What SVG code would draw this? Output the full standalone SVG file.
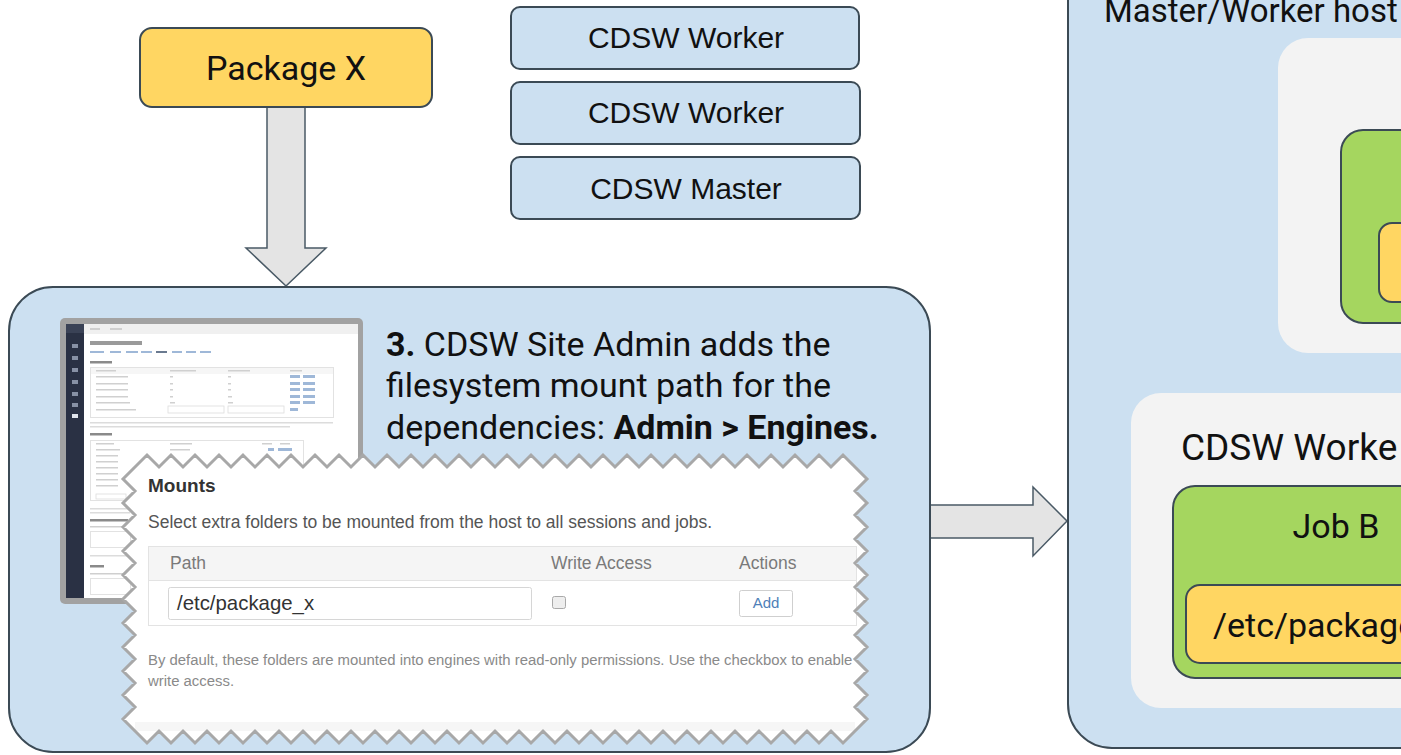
<svg xmlns="http://www.w3.org/2000/svg" width="1401" height="755" viewBox="0 0 1401 755">
<style>
.rob{font-family:Roboto,"Noto Sans",sans-serif;fill:#111}
.ari{font-family:"Liberation Sans",Arial,sans-serif}
.box{stroke:#3b4a55;stroke-width:2}
.blue{fill:#cce0f1}
.yel{fill:#ffd662}
.grn{fill:#a5d65f}
.gry{fill:#f3f3f3}
.arr{fill:#e4e4e4;stroke:#4a5a66;stroke-width:1.5}
.ln{fill:#d0d0d0}
.lk{fill:#9fb8d8}
</style>
<defs>
<path id="zz" d="M135,467 l12,-12 12,12 12,-12 12,12 12,-12 12,12 12,-12 12,12 12,-12 12,12
 12,-12 12,12 12,-12 12,12 12,-12 12,12 12,-12 12,12 12,-12 12,12
 12,-12 12,12 12,-12 12,12 12,-12 12,12 12,-12 12,12 12,-12 12,12
 12,-12 12,12 12,-12 12,12 12,-12 12,12 12,-12 12,12 12,-12 12,12
 12,-12 12,12 12,-12 12,12 12,-12 12,12 12,-12 12,12 12,-12 12,12
 12,-12 12,12 12,-12 12,12 12,-12 12,12 12,-12 12,12 12,-12 12,12
 12,12 -12,12 12,12 -12,12 12,12 -12,12 12,12 -12,12 12,12 -12,12
 12,12 -12,12 12,12 -12,12 12,12 -12,12 12,12 -12,12 12,12 -12,12
 12,12 -12,12
 -12,12 -12,-12 -12,12 -12,-12 -12,12 -12,-12 -12,12 -12,-12 -12,12 -12,-12
 -12,12 -12,-12 -12,12 -12,-12 -12,12 -12,-12 -12,12 -12,-12 -12,12 -12,-12
 -12,12 -12,-12 -12,12 -12,-12 -12,12 -12,-12 -12,12 -12,-12 -12,12 -12,-12
 -12,12 -12,-12 -12,12 -12,-12 -12,12 -12,-12 -12,12 -12,-12 -12,12 -12,-12
 -12,12 -12,-12 -12,12 -12,-12 -12,12 -12,-12 -12,12 -12,-12 -12,12 -12,-12
 -12,12 -12,-12 -12,12 -12,-12 -12,12 -12,-12 -12,12 -12,-12 -12,12 -12,-12
 -12,-12 12,-12 -12,-12 12,-12 -12,-12 12,-12 -12,-12 12,-12 -12,-12 12,-12
 -12,-12 12,-12 -12,-12 12,-12 -12,-12 12,-12 -12,-12 12,-12 -12,-12 12,-12
 -12,-12 12,-12 Z"/>
</defs>
<rect width="1401" height="755" fill="#ffffff"/>

<g id="connectors">
  <path class="arr" d="M267,106 L305,106 L305,248 L326,248 L286,286 L246,248 L267,248 Z"/>
  <path class="arr" d="M930,505 L1033,505 L1033,487 L1067,521 L1033,556 L1033,538 L930,538 Z"/>
</g>

<g id="package-x">
  <rect class="box yel" x="140" y="28" width="292" height="79" rx="12"/>
  <text class="rob" x="286" y="80" font-size="34" text-anchor="middle">Package X</text>
</g>

<g id="cdsw-worker-1">
  <rect class="box blue" x="511" y="7" width="348" height="62" rx="9"/>
  <text class="ari" x="686" y="48" font-size="30" text-anchor="middle" fill="#111">CDSW Worker</text>
</g>
<g id="cdsw-worker-2">
  <rect class="box blue" x="511" y="82" width="349" height="62" rx="9"/>
  <text class="ari" x="686" y="123" font-size="30" text-anchor="middle" fill="#111">CDSW Worker</text>
</g>
<g id="cdsw-master">
  <rect class="box blue" x="511" y="157" width="349" height="62" rx="9"/>
  <text class="ari" x="686" y="199" font-size="30" text-anchor="middle" fill="#111">CDSW Master</text>
</g>

<g id="site-admin">
  <rect class="box blue" x="9" y="287" width="921" height="465" rx="44"/>
  <g id="screenshot">
    <rect x="60" y="318" width="303" height="286" rx="5" fill="#a2a2a2"/>
    <rect x="66" y="324" width="292" height="274" fill="#ffffff"/>
    <rect x="84" y="324" width="274" height="10" fill="#f0f0f0"/>
    <rect x="90" y="328" width="10" height="2" class="ln"/>
    <rect x="110" y="328" width="12" height="2" class="ln"/>
    <rect x="66" y="324" width="18" height="274" fill="#2a3144"/>
    <rect x="66" y="324" width="18" height="9" fill="#3a4256"/>
    <rect x="72" y="344" width="6" height="4" fill="#8891a5"/>
    <rect x="72" y="356" width="6" height="4" fill="#8891a5"/>
    <rect x="72" y="368" width="6" height="4" fill="#8891a5"/>
    <rect x="72" y="380" width="6" height="4" fill="#8891a5"/>
    <rect x="72" y="392" width="6" height="4" fill="#8891a5"/>
    <rect x="72" y="403" width="6" height="4" fill="#8891a5"/>
    <rect x="72" y="414" width="6" height="4" fill="#e0e4ec"/>
    <rect x="90" y="341" width="52" height="4" fill="#9a9a9a"/>
    <rect x="90" y="351" width="14" height="2" class="lk"/>
    <rect x="110" y="351" width="11" height="2" class="lk"/>
    <rect x="126" y="351" width="12" height="2" class="lk"/>
    <rect x="141" y="351" width="11" height="2" class="lk"/>
    <rect x="156" y="351" width="11" height="2" fill="#6a7a90"/>
    <rect x="172" y="351" width="10" height="2" class="lk"/>
    <rect x="186" y="351" width="10" height="2" class="lk"/>
    <rect x="200" y="351" width="11" height="2" class="lk"/>
    <rect x="90" y="361" width="22" height="2.5" fill="#8a8a8a"/>
    <rect x="90.5" y="367.5" width="243" height="50" fill="none" stroke="#e2e2e2"/>
    <rect x="91" y="368" width="242" height="6" fill="#f6f6f6"/>
    <rect x="96" y="370" width="20" height="1.5" class="ln"/>
    <rect x="170" y="370" width="26" height="1.5" class="ln"/>
    <rect x="228" y="370" width="22" height="1.5" class="ln"/>
    <rect x="290" y="370" width="12" height="1.5" class="ln"/>
    <rect x="96" y="376" width="32" height="1.5" class="ln"/><rect x="170" y="376" width="3" height="1.5" class="ln"/><rect x="228" y="376" width="3" height="1.5" class="ln"/><rect x="290" y="375" width="10" height="3" class="lk"/><rect x="303" y="375" width="12" height="3" class="lk"/>
    <rect x="96" y="383" width="32" height="1.5" class="ln"/><rect x="170" y="383" width="3" height="1.5" class="ln"/><rect x="228" y="383" width="3" height="1.5" class="ln"/><rect x="290" y="382" width="10" height="3" class="lk"/><rect x="303" y="382" width="12" height="3" class="lk"/>
    <rect x="96" y="389" width="32" height="1.5" class="ln"/><rect x="170" y="389" width="3" height="1.5" class="ln"/><rect x="228" y="389" width="3" height="1.5" class="ln"/><rect x="290" y="388" width="10" height="3" class="lk"/><rect x="303" y="388" width="12" height="3" class="lk"/>
    <rect x="96" y="396" width="32" height="1.5" class="ln"/><rect x="170" y="396" width="3" height="1.5" class="ln"/><rect x="228" y="396" width="4" height="1.5" class="ln"/><rect x="290" y="395" width="10" height="3" class="lk"/><rect x="303" y="395" width="12" height="3" class="lk"/>
    <rect x="96" y="402" width="34" height="1.5" class="ln"/><rect x="170" y="402" width="5" height="1.5" class="ln"/><rect x="228" y="402" width="5" height="1.5" class="ln"/><rect x="290" y="401" width="10" height="3" class="lk"/><rect x="303" y="401" width="12" height="3" class="lk"/>
    <rect x="96" y="409" width="40" height="1.5" class="ln"/><rect x="168" y="406" width="56" height="7" fill="none" stroke="#ddd" stroke-width="0.8"/><rect x="228" y="406" width="56" height="7" fill="none" stroke="#ddd" stroke-width="0.8"/><rect x="290" y="408" width="8" height="3" class="lk"/>
    <rect x="90" y="422" width="243" height="1.5" fill="#dcdcdc"/>
    <rect x="90" y="426" width="200" height="1.5" fill="#dcdcdc"/>
    <rect x="90" y="433" width="22" height="2.5" fill="#8a8a8a"/>
    <rect x="90.5" y="440.5" width="213" height="60" fill="none" stroke="#e2e2e2"/>
    <rect x="96" y="443" width="18" height="1.5" class="ln"/><rect x="170" y="443" width="22" height="1.5" class="ln"/><rect x="262" y="443" width="10" height="1.5" class="ln"/><rect x="280" y="443" width="10" height="1.5" class="ln"/>
    <rect x="96" y="449" width="24" height="1.5" class="ln"/><rect x="170" y="449" width="20" height="1.5" class="ln"/><rect x="268" y="448" width="6" height="3" class="lk"/><rect x="278" y="448" width="14" height="3" class="lk"/>
    <rect x="96" y="455" width="22" height="1.5" class="ln"/>
    <rect x="96" y="461" width="22" height="1.5" class="ln"/>
    <rect x="96" y="467" width="22" height="1.5" class="ln"/>
    <rect x="96" y="473" width="22" height="1.5" class="ln"/>
    <rect x="96" y="479" width="22" height="1.5" class="ln"/>
    <rect x="96" y="485" width="22" height="1.5" class="ln"/>
    <rect x="96" y="494" width="30" height="5" fill="none" stroke="#ddd" stroke-width="0.8"/>
    <rect x="90" y="508" width="40" height="1.5" fill="#dcdcdc"/>
    <rect x="90" y="512" width="40" height="1.5" fill="#dcdcdc"/>
    <rect x="90" y="519" width="38" height="2.5" fill="#8a8a8a"/>
    <rect x="90" y="526" width="40" height="1.5" fill="#cfcfcf"/>
    <rect x="90.5" y="531.5" width="40" height="16" fill="none" stroke="#e2e2e2"/>
    <rect x="90" y="555" width="40" height="1.5" fill="#dcdcdc"/>
    <rect x="90" y="565" width="14" height="2.5" fill="#8a8a8a"/>
    <rect x="90" y="573" width="40" height="1.5" fill="#cfcfcf"/>
    <rect x="90.5" y="578.5" width="40" height="16" fill="none" stroke="#e2e2e2"/>
  </g>

  <text class="rob" x="386" y="356" font-size="34"><tspan font-weight="bold">3.</tspan> CDSW Site Admin adds the</text>
  <text class="rob" x="386" y="397" font-size="34">filesystem mount path for the</text>
  <text class="rob" x="386" y="439" font-size="34">dependencies: <tspan font-weight="bold">Admin &gt; Engines.</tspan></text>

  <g id="mounts-panel">
    <use href="#zz" fill="#ffffff"/>
    <rect x="135" y="722" width="720" height="9" fill="#f6f6f6"/>
    <text class="ari" x="148" y="492" font-size="19" font-weight="bold" fill="#333">Mounts</text>
    <text class="ari" x="148" y="528" font-size="17.5" fill="#555">Select extra folders to be mounted from the host to all sessions and jobs.</text>
    <rect x="148.5" y="546.5" width="708" height="79" fill="#ffffff" stroke="#e3e3e3"/>
    <rect x="149" y="547" width="707" height="33" fill="#f5f5f5"/>
    <line x1="149" y1="580.5" x2="856" y2="580.5" stroke="#e3e3e3"/>
    <text class="ari" x="170" y="569" font-size="17.5" fill="#7a7a7a">Path</text>
    <text class="ari" x="551" y="569" font-size="17.5" fill="#7a7a7a">Write Access</text>
    <text class="ari" x="739" y="569" font-size="17.5" fill="#7a7a7a">Actions</text>
    <rect x="168.5" y="587.5" width="363" height="32" rx="2" fill="#ffffff" stroke="#d6d6d6"/>
    <text class="ari" x="177" y="610" font-size="20.4" fill="#333">/etc/package_x</text>
    <rect x="552.5" y="596.5" width="13" height="12" rx="2" fill="#eeeeee" stroke="#a9a9a9"/>
    <rect x="739.5" y="590.5" width="53" height="26" rx="2" fill="#ffffff" stroke="#cfcfcf"/>
    <text class="ari" x="766" y="608" font-size="15" fill="#4f7fb8" text-anchor="middle">Add</text>
    <text class="ari" x="148" y="665" font-size="14.9" fill="#8a8a8a">By default, these folders are mounted into engines with read-only permissions. Use the checkbox to enable</text>
    <text class="ari" x="148" y="686" font-size="14.9" fill="#8a8a8a">write access.</text>
    <use href="#zz" fill="none" stroke="#a8a8a8" stroke-width="3"/>
  </g>
</g>

<g id="hosts">
  <rect class="box blue" x="1068" y="-60" width="400" height="808" rx="44"/>
  <text class="rob" x="1104" y="22" font-size="33">Master/Worker host</text>
</g>

<g id="host-1">
  <rect class="gry" x="1278" y="38" width="200" height="315" rx="30"/>
  <g id="job-a">
    <rect class="box grn" x="1341" y="130" width="120" height="193" rx="22" stroke-width="1.5"/>
    <rect class="box yel" x="1379" y="223" width="60" height="79" rx="13" stroke-width="1.5"/>
  </g>
</g>

<g id="host-2">
  <rect class="gry" x="1131" y="393" width="340" height="315" rx="30"/>
  <text class="rob" x="1181" y="460" font-size="37">CDSW Worke</text>
  <g id="job-b">
    <rect class="box grn" x="1173" y="486" width="280" height="192" rx="22" stroke-width="1.5"/>
    <text class="rob" x="1336" y="538" font-size="34" text-anchor="middle">Job B</text>
    <rect class="box yel" x="1186" y="585" width="260" height="78" rx="14" stroke-width="1.5"/>
    <text class="rob" x="1213" y="637" font-size="34">/etc/package</text>
  </g>
</g>
</svg>
